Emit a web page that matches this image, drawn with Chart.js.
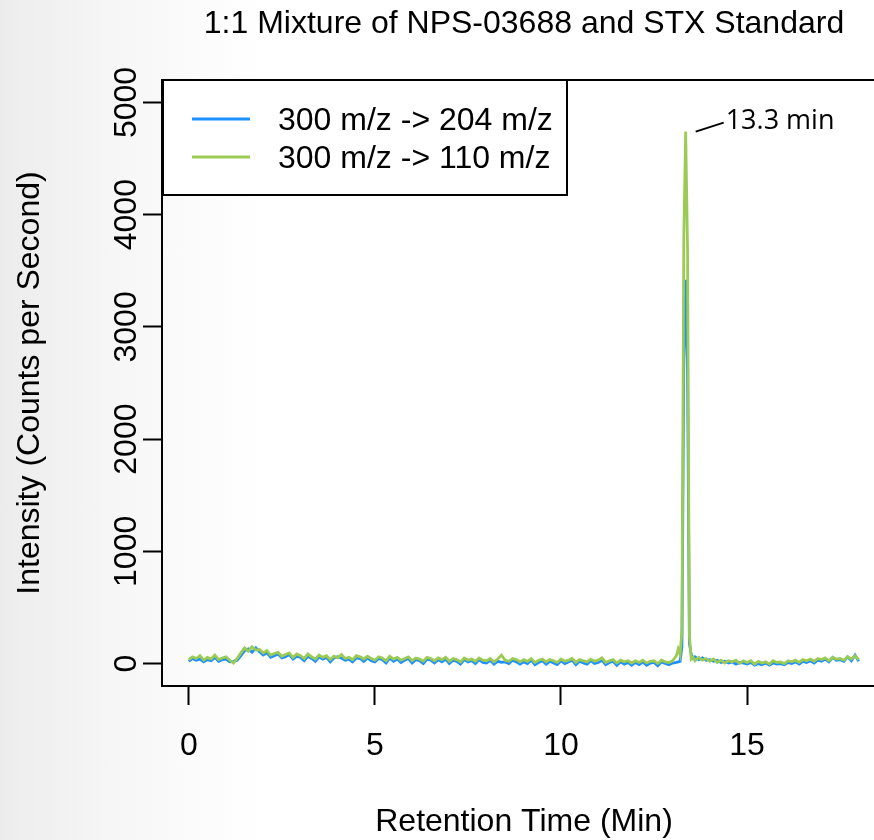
<!DOCTYPE html>
<html><head><meta charset="utf-8">
<script src="https://cdn.jsdelivr.net/npm/chart.js@4.4.0/dist/chart.umd.min.js"></script>
<style>
html,body{margin:0;padding:0;}
body{width:874px;height:840px;overflow:hidden;background:linear-gradient(90deg,#ececec 0px,#f6f6f6 110px,#ffffff 260px);}
#wrap{position:relative;width:874px;height:840px;}
</style></head><body><div id="wrap"><canvas id="c" width="874" height="840"></canvas></div>
<script>
const chartTitle = "1:1 Mixture of NPS-03688 and STX Standard";
const xTitle = "Retention Time (Min)";
const yTitle = "Intensity (Counts per Second)";
const seriesNames = ["300 m/z -> 204 m/z", "300 m/z -> 110 m/z"];
const xTicks = [0, 5, 10, 15];
const yTicks = [0, 1000, 2000, 3000, 4000, 5000];
const peakTime = 13.35;
const peakValue = 4740;
const peakLabel = "13.3 min";

const retentionTime = [
 0.0,0.1,0.2,0.3,0.4,0.5,0.6,0.7,0.8,0.9,
 1.0,1.1,1.2,1.3,1.4,1.5,1.6,1.7,1.8,1.9,
 2.0,2.1,2.2,2.3,2.4,2.5,2.6,2.7,2.8,2.9,
 3.0,3.1,3.2,3.3,3.4,3.5,3.6,3.7,3.8,3.9,
 4.0,4.1,4.2,4.3,4.4,4.5,4.6,4.7,4.8,4.9,
 5.0,5.1,5.2,5.3,5.4,5.5,5.6,5.7,5.8,5.9,
 6.0,6.1,6.2,6.3,6.4,6.5,6.6,6.7,6.8,6.9,
 7.0,7.1,7.2,7.3,7.4,7.5,7.6,7.7,7.8,7.9,
 8.0,8.1,8.2,8.3,8.4,8.5,8.6,8.7,8.8,8.9,
 9.0,9.1,9.2,9.3,9.4,9.5,9.6,9.7,9.8,9.9,
 10.0,10.1,10.2,10.3,10.4,10.5,10.6,10.7,10.8,10.9,
 11.0,11.1,11.2,11.3,11.4,11.5,11.6,11.7,11.8,11.9,
 12.0,12.1,12.2,12.3,12.4,12.5,12.6,12.7,12.8,12.9,
 13.0,13.1,
 13.15,13.2,13.25,13.3,13.35,13.4,13.45,13.5,13.55,
 13.6,13.7,13.8,13.9,
 14.0,14.1,14.2,14.3,14.4,14.5,14.6,14.7,14.8,14.9,
 15.0,15.1,15.2,15.3,15.4,15.5,15.6,15.7,15.8,15.9,
 16.0,16.1,16.2,16.3,16.4,16.5,16.6,16.7,16.8,16.9,
 17.0,17.1,17.2,17.3,17.4,17.5,17.6,17.7,17.8,17.9,
 18.0
];

const ion204 = [
 20,45,30,40,15,35,25,55,20,35,
 40,15,20,30,70,115,130,100,140,105,
 75,95,55,70,85,50,60,80,40,65,
 55,25,65,45,20,60,40,55,15,50,
 60,50,30,40,15,50,45,20,50,25,
 15,45,35,5,50,20,40,10,30,45,
 5,35,25,0,40,30,5,35,15,40,
 0,30,20,-5,35,15,25,0,35,10,
 5,30,-5,20,10,15,0,30,15,-5,
 15,0,30,-10,10,25,-5,20,5,-10,
 25,0,15,30,-10,20,5,-5,25,0,
 10,30,-10,10,20,-15,15,-5,10,-15,
 10,-10,15,-15,5,10,-20,15,0,-10,
 5,10,
 15,20,150,2700,3420,2600,180,80,45,
 60,35,50,30,
 35,20,30,10,20,5,15,-5,10,5,
 -5,10,-15,0,-10,5,-15,5,-5,0,
 -10,10,0,15,-5,20,10,25,5,30,
 20,40,15,55,30,35,20,60,25,75,
 20
];

const ion110 = [
 35,60,45,70,30,55,40,75,35,50,
 60,30,5,45,95,140,110,150,120,125,
 95,115,75,90,100,65,80,95,55,85,
 70,45,85,60,40,75,55,70,35,65,
 50,80,45,55,35,70,60,40,65,45,
 30,60,50,25,65,40,55,30,45,60,
 25,50,40,20,55,45,25,50,35,55,
 20,45,35,15,50,30,40,20,50,30,
 25,45,15,40,75,30,20,45,35,15,
 35,20,45,10,30,40,15,35,25,10,
 40,20,30,45,10,35,25,15,40,20,
 30,50,10,25,35,5,30,15,25,5,
 25,10,30,5,20,25,0,30,15,10,
 25,70,
 130,80,300,3800,4740,3700,250,40,55,
 25,55,30,45,
 20,40,10,30,5,25,15,30,0,25,
 10,25,-5,20,5,15,-5,25,10,15,
 0,25,15,30,10,35,25,40,20,45,
 35,50,25,55,40,45,30,60,40,70,
 35
];

const BLUE = '#1E90FF';
const GREEN = '#9CCB55';
const FONT = "'Liberation Sans', Arial, Helvetica, sans-serif";

const framePlugin = {
  id: 'frame',
  afterDraw(chart) {
    const ctx = chart.ctx;
    const a = chart.chartArea;
    const xs = chart.scales.x, ys = chart.scales.y;
    ctx.save();
    // plot box (its right side lies beyond the visible picture)
    ctx.strokeStyle = '#000';
    ctx.lineWidth = 2;
    ctx.beginPath();
    ctx.moveTo(a.right + 5, a.top);
    ctx.lineTo(a.left, a.top);
    ctx.lineTo(a.left, a.bottom);
    ctx.lineTo(a.right + 5, a.bottom);
    ctx.stroke();

    // legend
    const lx = a.left + 1, ly = a.top, lw = 404, lh = 115;
    ctx.fillStyle = '#fff';
    ctx.fillRect(lx, ly, lw, lh);
    ctx.strokeRect(lx, ly, lw, lh);
    const colors = [BLUE, GREEN];
    const rows = [ly + 39, ly + 77];
    ctx.font = '32px ' + FONT;
    ctx.textBaseline = 'middle';
    ctx.textAlign = 'left';
    for (let i = 0; i < 2; i++) {
      ctx.strokeStyle = colors[i];
      ctx.lineWidth = 3;
      ctx.beginPath();
      ctx.moveTo(lx + 29, rows[i]);
      ctx.lineTo(lx + 87, rows[i]);
      ctx.stroke();
      ctx.fillStyle = '#000';
      ctx.fillText(seriesNames[i], lx + 115, rows[i] + 2);
    }

    // titles
    ctx.fillStyle = '#000';
    ctx.textAlign = 'center';
    ctx.textBaseline = 'middle';
    ctx.font = '32px ' + FONT;
    const cx = a.left + 362;
    ctx.fillText(chartTitle, cx, 24);
    ctx.fillText(xTitle, cx, 822);
    ctx.save();
    ctx.translate(30, (a.top + a.bottom) / 2);
    ctx.rotate(-Math.PI / 2);
    ctx.fillText(yTitle, 0, 0);
    ctx.restore();

    // peak annotation
    const px = xs.getPixelForValue(peakTime);
    const py = ys.getPixelForValue(peakValue);
    ctx.strokeStyle = '#000';
    ctx.lineWidth = 2;
    ctx.beginPath();
    ctx.moveTo(px + 10, py);
    ctx.lineTo(px + 38, py - 9);
    ctx.stroke();
    ctx.font = "27px 'Open Sans', 'Noto Sans', sans-serif";
    ctx.textAlign = 'left';
    ctx.textBaseline = 'middle';
    ctx.fillText(peakLabel, px + 40, py - 10);
    ctx.restore();
  }
};

const toPoints = arr => retentionTime.map((t, i) => ({ x: t, y: arr[i] }));

new Chart(document.getElementById('c'), {
  type: 'line',
  data: {
    datasets: [
      { label: seriesNames[1], data: toPoints(ion110), borderColor: GREEN, borderWidth: 2.8,
        pointRadius: 0, tension: 0, fill: false, order: 0 },
      { label: seriesNames[0], data: toPoints(ion204), borderColor: BLUE, borderWidth: 2.8,
        pointRadius: 0, tension: 0, fill: false, order: 1 }
    ]
  },
  options: {
    responsive: false,
    animation: false,
    devicePixelRatio: 1,
    layout: { padding: { top: 80, right: 0, left: 0, bottom: 0 } },
    plugins: { legend: { display: false }, title: { display: false }, tooltip: { enabled: false } },
    scales: {
      x: {
        type: 'linear', min: -0.72, max: 18.41,
        afterBuildTicks: s => { s.ticks = xTicks.map(v => ({ value: v })); },
        afterFit: s => { s.height = 154; },
        grid: { display: true, drawOnChartArea: false, drawTicks: true, tickLength: 19, tickColor: '#000', tickWidth: 2 },
        border: { display: false },
        ticks: { color: '#000', font: { family: FONT, size: 32 }, padding: 22, maxRotation: 0, autoSkip: false,
                 callback: v => String(v) }
      },
      y: {
        type: 'linear', min: -200, max: 5200,
        afterBuildTicks: s => { s.ticks = yTicks.map(v => ({ value: v })); },
        afterFit: s => { s.width = 162; },
        grid: { display: true, drawOnChartArea: false, drawTicks: true, tickLength: 19, tickColor: '#000', tickWidth: 2 },
        border: { display: false },
        ticks: { color: '#000', font: { family: FONT, size: 32 }, padding: -20, minRotation: 90, maxRotation: 90,
                 crossAlign: 'center', autoSkip: false, callback: v => String(v) }
      }
    }
  },
  plugins: [framePlugin]
});
</script></body></html>
